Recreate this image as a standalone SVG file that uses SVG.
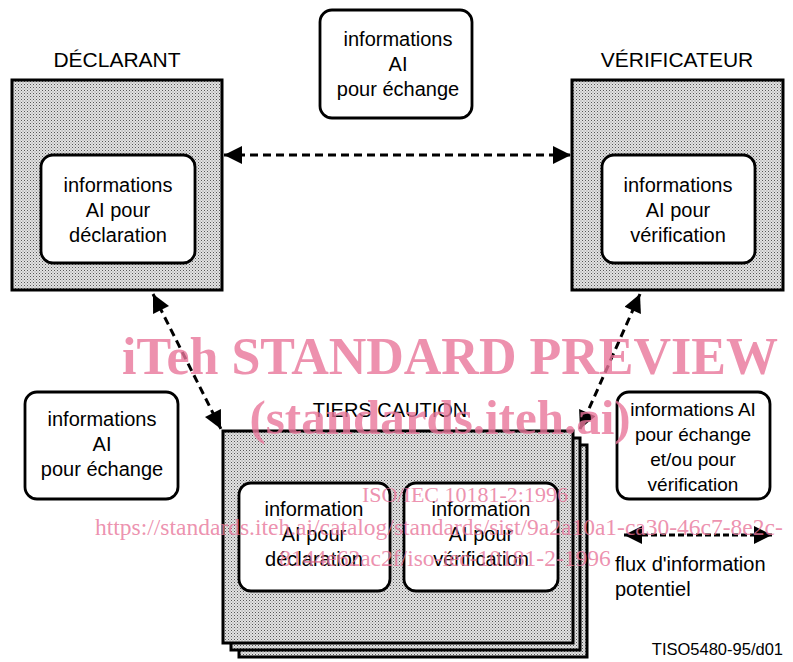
<svg xmlns="http://www.w3.org/2000/svg" width="793" height="662" viewBox="0 0 793 662">
<defs>
<pattern id="dots" width="3" height="3" patternUnits="userSpaceOnUse">
<rect width="3" height="3" fill="#e2e2e2"/>
<rect x="0" y="0" width="1" height="1" fill="#555"/>
<rect x="1.5" y="1.5" width="1" height="1" fill="#888"/>
</pattern>
<marker id="ah" viewBox="0 0 10 10" refX="10" refY="5" markerWidth="6.5" markerHeight="6" markerUnits="strokeWidth" orient="auto-start-reverse">
<path d="M0,0 L10,5 L0,10 Z" fill="#000"/>
</marker>
</defs>
<style>
.outer{fill:url(#dots);stroke:#000;stroke-width:3}
.inner{fill:#fff;stroke:#000;stroke-width:2.8}
.t{font-family:"Liberation Sans",Arial,sans-serif;font-size:20px;fill:#000;text-anchor:middle}
.title{font-family:"Liberation Sans",Arial,sans-serif;font-size:21px;fill:#000;text-anchor:middle}
.conn{fill:none;stroke:#000;stroke-width:3;stroke-dasharray:8 5;marker-start:url(#ah);marker-end:url(#ah)}
.wm{font-family:"Liberation Serif","Times New Roman",serif;fill:#e8759a;fill-opacity:0.8}
</style>
<rect width="793" height="662" fill="#fff"/>

<g id="declarant">
<text class="title" x="117" y="67">DÉCLARANT</text>
<rect class="outer" x="12" y="80" width="210" height="210"/>
<rect class="inner" x="41" y="155" width="154" height="108" rx="12"/>
<text class="t" x="118" y="192">informations</text>
<text class="t" x="118" y="217">AI pour</text>
<text class="t" x="118" y="242">déclaration</text>
</g>

<g id="verificateur">
<text class="title" x="677" y="67">VÉRIFICATEUR</text>
<rect class="outer" x="572" y="80" width="211" height="210"/>
<rect class="inner" x="602" y="155" width="153" height="108" rx="12"/>
<text class="t" x="678" y="192">informations</text>
<text class="t" x="678" y="217">AI pour</text>
<text class="t" x="678" y="242">vérification</text>
</g>

<g id="echange-top">
<rect class="inner" x="320" y="10" width="152" height="108" rx="12"/>
<text class="t" x="398" y="46">informations</text>
<text class="t" x="398" y="71">AI</text>
<text class="t" x="398" y="96">pour échange</text>
</g>

<g id="echange-left">
<rect class="inner" x="25" y="392" width="153" height="107" rx="12"/>
<text class="t" x="102" y="426">informations</text>
<text class="t" x="102" y="451">AI</text>
<text class="t" x="102" y="476">pour échange</text>
</g>

<g id="echange-right">
<rect class="inner" x="617" y="392" width="153" height="107" rx="12"/>
<text class="t" x="693" y="416" style="font-size:19px">informations AI</text>
<text class="t" x="693" y="441" style="font-size:19px">pour échange</text>
<text class="t" x="693" y="466" style="font-size:19px">et/ou pour</text>
<text class="t" x="693" y="491" style="font-size:19px">vérification</text>
</g>

<g id="tiers">
<text class="title" x="390" y="417" style="font-size:20px">TIERS CAUTION</text>
<rect class="outer" x="239" y="445" width="348" height="212"/>
<rect class="outer" x="231" y="438" width="349" height="212"/>
<rect class="outer" x="223" y="431" width="350" height="212"/>
<rect class="inner" x="239" y="483" width="151" height="108" rx="12"/>
<text class="t" x="314" y="516">information</text>
<text class="t" x="314" y="541">AI pour</text>
<text class="t" x="314" y="566">déclaration</text>
<rect class="inner" x="404" y="483" width="154" height="108" rx="12"/>
<text class="t" x="481" y="516">information</text>
<text class="t" x="481" y="541">AI pour</text>
<text class="t" x="481" y="566">vérification</text>
</g>

<g id="connectors">
<line class="conn" x1="224" y1="155" x2="571" y2="155"/>
<line class="conn" x1="153" y1="294" x2="221" y2="429"/>
<line class="conn" x1="640" y1="294" x2="580" y2="429"/>
<line class="conn" x1="624" y1="535" x2="772" y2="535" style="stroke-dasharray:6 3"/>
</g>

<g id="legend">
<text font-family="Liberation Sans, Arial, sans-serif" font-size="20" x="615" y="571">flux d'information</text>
<text font-family="Liberation Sans, Arial, sans-serif" font-size="20" x="615" y="596">potentiel</text>
<text font-family="Liberation Sans, Arial, sans-serif" font-size="16.5" x="783" y="655" text-anchor="end">TISO5480-95/d01</text>
</g>

<g id="watermark">
<text class="wm" x="450" y="374" font-size="52" font-weight="bold" text-anchor="middle">iTeh STANDARD PREVIEW</text>
<text class="wm" x="440" y="434" font-size="49" font-weight="bold" text-anchor="middle">(standards.iteh.ai)</text>
<text class="wm" x="465" y="502" font-size="22" text-anchor="middle">ISO/IEC 10181-2:1996</text>
<text class="wm" x="95" y="535" font-size="23.5">https://standards.iteh.ai/catalog/standards/sist/9a2a10a1-ca30-46c7-8e2c-</text>
<text class="wm" x="445" y="566" font-size="23.5" text-anchor="middle">8144e62ac2f/iso-iec-10181-2-1996</text>
</g>
</svg>
